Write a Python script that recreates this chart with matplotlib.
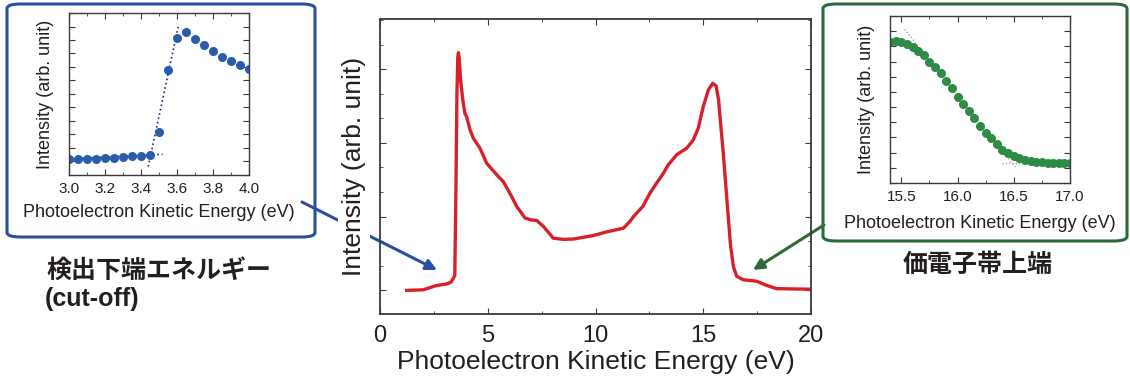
import numpy as np
import matplotlib
matplotlib.use('agg')
import matplotlib.pyplot as plt
from matplotlib import rcParams, ticker
from matplotlib.patches import FancyBboxPatch, FancyArrowPatch

rcParams['font.family'] = ['Liberation Sans', 'DejaVu Sans']

# main spectrum (baseline ~0)
main_ev = [1.24, 2.0, 2.6, 3.1, 3.3, 3.47, 3.52, 3.57, 3.61, 3.64, 3.68, 3.74,
           3.84, 3.94, 4.02, 4.18, 4.33, 4.64, 4.95, 5.49, 5.72, 6.11, 6.34,
           6.57, 6.73, 6.88, 7.0, 7.27, 7.58, 7.8, 8.04, 8.5, 8.97, 9.9, 10.5,
           11.3, 11.6, 11.76, 12.2, 12.53, 12.84, 13.15, 13.38, 13.77, 14.23,
           14.54, 14.77, 15.0, 15.24, 15.44, 15.6, 15.71, 15.82, 15.93, 16.05,
           16.16, 16.27, 16.4, 16.55, 16.86, 17.48, 17.94, 18.4, 19.95]
main_int = [0.0, 0.2, 1.6, 2.2, 2.8, 5.0, 32.0, 67.0, 79.0, 80.6, 78.5, 71.3,
            64.6, 60.0, 58.9, 54.4, 51.6, 48.2, 43.1, 38.6, 36.9, 31.8, 28.5,
            26.2, 24.5, 24.2, 23.9, 23.7, 21.7, 19.8, 17.7, 17.3, 17.4, 18.6,
            19.8, 21.1, 23.4, 25.0, 28.5, 33.0, 36.4, 39.7, 42.6, 46.0, 48.2,
            51.0, 55.0, 62.3, 68.0, 70.2, 69.3, 64.6, 55.5, 46.5, 35.2, 25.0,
            14.9, 8.1, 4.8, 3.6, 3.1, 1.7, 0.6, 0.4]

# cut-off inset
cut_ev = [3.00, 3.05, 3.10, 3.15, 3.20, 3.25, 3.30, 3.35, 3.40, 3.45, 3.50,
          3.55, 3.60, 3.65, 3.70, 3.75, 3.80, 3.85, 3.90, 3.95, 4.00]
cut_int = [10.1, 9.9, 9.9, 10.1, 10.5, 10.7, 11.1, 11.5, 11.8, 12.4, 26.4,
           64.7, 84.3, 88.2, 84.1, 80.4, 76.5, 73.0, 70.5, 67.8, 65.6]
cut_fit_ev = [3.44, 3.61]
cut_fit_int = [5.2, 93.2]
cut_base_ev = [3.0, 3.52]
cut_base_int = [10.0, 12.8]

# valence band edge inset
vb_ev = [15.40, 15.45, 15.50, 15.55, 15.60, 15.65, 15.70, 15.75, 15.80, 15.85,
         15.90, 15.95, 16.00, 16.05, 16.10, 16.15, 16.20, 16.25, 16.30, 16.35,
         16.40, 16.45, 16.50, 16.55, 16.60, 16.65, 16.70, 16.75, 16.80, 16.85,
         16.90, 16.95, 17.00]
vb_int = [84.5, 84.9, 84.5, 83.5, 81.5, 79.1, 76.9, 72.6, 69.6, 65.6, 61.2,
          56.7, 51.7, 47.1, 43.3, 38.8, 34.4, 30.2, 26.8, 23.3, 19.9, 17.9,
          16.3, 14.9, 13.9, 13.1, 12.5, 12.3, 11.9, 11.9, 11.9, 11.9, 11.9]
vb_fit_ev = [15.53, 16.52]
vb_fit_int = [92.0, 9.0]
vb_base_ev = [16.4, 17.0]
vb_base_int = [12.0, 12.0]

txt = '#231f20'
red = '#d7202a'
blue = '#2a5cac'
blue_box = '#2a4fa0'
green = '#2e8b46'
green_box = '#2d6a3b'

fig = plt.figure(figsize=(11.3, 3.79), dpi=100)


def style_axes(ax, lw, size):
    for s in ax.spines.values():
        s.set_color('#3a3a3a')
        s.set_linewidth(lw)
    ax.tick_params(which='both', direction='in', top=True, right=True,
                   colors='#3a3a3a', labelcolor=txt, labelsize=size, pad=5)
    ax.tick_params(which='major', length=4)
    ax.tick_params(which='minor', length=2.5)
    ax.yaxis.set_major_formatter(ticker.NullFormatter())


# main panel
ax = fig.add_axes([380/1130, 1-314/379, 431/1130, 295/379])
ax.patch.set_alpha(0)
ax.plot(main_ev, main_int, color=red, lw=2.4, solid_joinstyle='round')
ax.set_xlim(0, 20)
ax.set_ylim(-8, 92)
ax.xaxis.set_major_locator(ticker.MultipleLocator(5))
ax.xaxis.set_minor_locator(ticker.MultipleLocator(2.5))
ax.yaxis.set_major_locator(ticker.MultipleLocator(25))
ax.yaxis.set_minor_locator(ticker.MultipleLocator(25/3))
style_axes(ax, 1.3, 17)
ax.tick_params(axis='x', pad=8)
ax.set_xlabel('Photoelectron Kinetic Energy (eV)', fontsize=19, color=txt,
              labelpad=2)
ax.set_ylabel('Intensity (arb. unit)', fontsize=19, color=txt, labelpad=5,
              bbox=dict(facecolor='white', edgecolor='none', pad=3))

# cut-off inset
axl = fig.add_axes([69/1130, 1-175/379, 180/1130, 162/379])
axl.plot(cut_base_ev, cut_base_int, ls=':', color='#1f2f7a', lw=1.2, zorder=1)
axl.plot(cut_fit_ev, cut_fit_int, ls=':', color='#1f2f7a', lw=1.2, zorder=1)
axl.plot(cut_ev, cut_int, 'o', color=blue, ms=6.5, mec='none', zorder=2)
axl.set_xlim(3.0, 4.0)
axl.set_ylim(0, 100)
axl.xaxis.set_major_locator(ticker.MultipleLocator(0.2))
axl.xaxis.set_minor_locator(ticker.MultipleLocator(0.1))
axl.yaxis.set_major_locator(ticker.MultipleLocator(100/12))
axl.xaxis.set_major_formatter(ticker.FormatStrFormatter('%.1f'))
style_axes(axl, 1.0, 11)
axl.set_xlabel('Photoelectron Kinetic Energy (eV)', fontsize=13, color=txt,
               labelpad=6)
axl.set_ylabel('Intensity (arb. unit)', fontsize=13, color=txt, labelpad=6)

# valence band edge inset
axr = fig.add_axes([890/1130, 1-183/379, 180/1130, 167/379])
axr.plot(vb_fit_ev, vb_fit_int, ls=':', color='#999999', lw=0.9, zorder=1)
axr.plot(vb_base_ev, vb_base_int, ls=':', color='#999999', lw=0.9, zorder=1)
axr.plot(vb_ev, vb_int, 'o', color=green, ms=6.5, mec='none', zorder=2)
axr.set_xlim(15.4, 17.0)
axr.set_ylim(0, 100)
axr.xaxis.set_major_locator(ticker.MultipleLocator(0.5))
axr.xaxis.set_minor_locator(ticker.MultipleLocator(0.25))
axr.yaxis.set_major_locator(ticker.MultipleLocator(100/11))
axr.xaxis.set_major_formatter(ticker.FormatStrFormatter('%.1f'))
style_axes(axr, 1.0, 11)
axr.set_xlabel('Photoelectron Kinetic Energy (eV)', fontsize=13, color=txt,
               labelpad=8)
axr.set_ylabel('Intensity (arb. unit)', fontsize=13, color=txt, labelpad=6)

# rounded frames around the insets
fig.patches.append(FancyBboxPatch((7/1130, 142/379), 308/1130, 233/379,
                                  boxstyle='round,pad=0,rounding_size=0.012',
                                  transform=fig.transFigure, fill=False,
                                  ec=blue_box, lw=2.2, zorder=-2))
fig.patches.append(FancyBboxPatch((823/1130, 138/379), 304/1130, 237/379,
                                  boxstyle='round,pad=0,rounding_size=0.012',
                                  transform=fig.transFigure, fill=False,
                                  ec=green_box, lw=2.2, zorder=-2))

# arrows pointing at the edges
fig.patches.append(FancyArrowPatch((302/1130, 1-202/379), (437/1130, 1-270/379),
                                   transform=fig.transFigure, arrowstyle='-|>',
                                   mutation_scale=16, color=blue_box, lw=2.2,
                                   shrinkA=0, shrinkB=0, zorder=-1))
fig.patches.append(FancyArrowPatch((824/1130, 1-225/379), (753/1130, 1-270/379),
                                   transform=fig.transFigure, arrowstyle='-|>',
                                   mutation_scale=16, color=green_box, lw=2.2,
                                   shrinkA=0, shrinkB=0, zorder=-1))

# labels
jp = ['Noto Sans CJK JP', 'DejaVu Sans']
fig.text(46/1130, 1-271/379, '検出下端エネルギー', family=jp, fontsize=18,
         fontweight='bold', color=txt, va='center', ha='left')
fig.text(45/1130, 1-299/379, '(cut-off)', fontsize=18, fontweight='bold',
         color=txt, va='center', ha='left')
fig.text(978/1130, 1-265/379, '価電子帯上端', family=jp, fontsize=18,
         fontweight='bold', color=txt, va='center', ha='center')

fig.savefig('out.png', dpi=100)
